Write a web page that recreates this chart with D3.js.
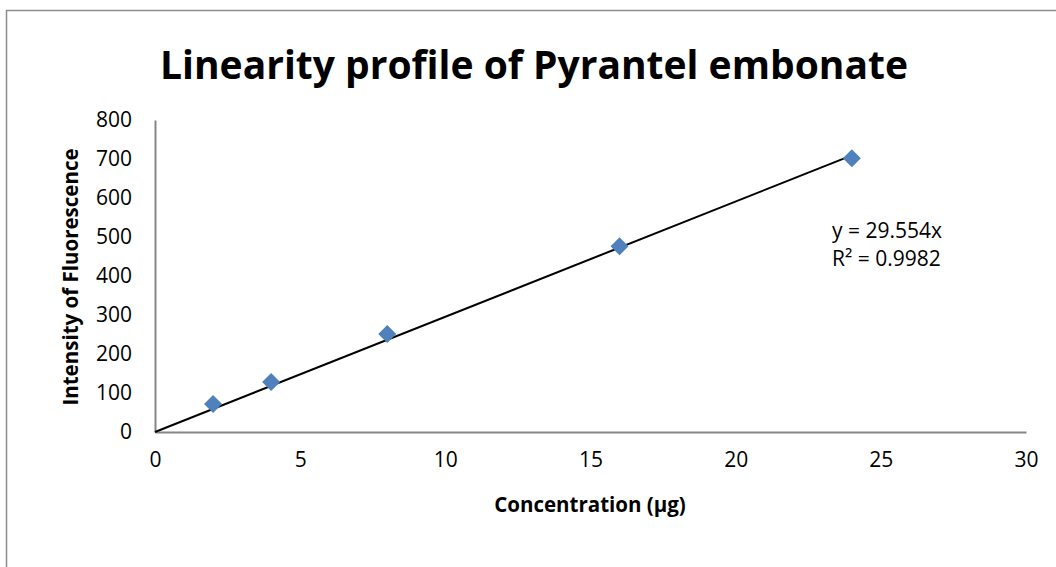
<!DOCTYPE html>
<html>
<head>
<meta charset="utf-8">
<script src="https://cdn.jsdelivr.net/npm/d3@7"></script>
<style>
  body { margin: 0; background: #fff; }
  svg { display: block; font-family: "Open Sans", Lato, sans-serif; }
</style>
</head>
<body>
<div id="chart"></div>
<script>
// data
const concentration = [2, 4, 8, 16, 24];
const intensity = [72, 128, 251, 476, 702];
const slope = 29.554;
const xTicks = [0, 5, 10, 15, 20, 25, 30];
const yTicks = [0, 100, 200, 300, 400, 500, 600, 700, 800];

const W = 1056, H = 567;
const margin = {top: 120, right: 30, bottom: 135, left: 155};
const width = 1026 - margin.left, height = 432 - margin.top;

const svg = d3.select("#chart").append("svg")
  .attr("width", W).attr("height", H);

// outer chart frame (cropped at right/bottom)
svg.append("rect")
  .attr("x", 6.5).attr("y", 10.5)
  .attr("width", W + 10).attr("height", H + 10)
  .attr("fill", "none").attr("stroke", "#8c8c8c").attr("stroke-width", 1.5);

svg.append("text")
  .attr("x", 534).attr("y", 79)
  .attr("text-anchor", "middle")
  .style("font-size", "39px").style("font-weight", "bold")
  .text("Linearity profile of Pyrantel embonate");

const g = svg.append("g").attr("transform", `translate(${margin.left},${margin.top})`);

const x = d3.scaleLinear().domain([0, 30]).range([0, width]);
const y = d3.scaleLinear().domain([0, 800]).range([height, 0]);

const xAxis = g.append("g").attr("transform", `translate(0,${height})`)
  .call(d3.axisBottom(x).tickValues(xTicks).tickSize(0).tickPadding(16));
const yAxis = g.append("g")
  .call(d3.axisLeft(y).tickValues(yTicks).tickSize(0).tickPadding(23));

[xAxis, yAxis].forEach(a => {
  a.select(".domain").attr("stroke", "#868686").attr("stroke-width", 2);
  a.selectAll("text").attr("fill", "#000")
    .style("font-family", "'Open Sans', Lato, sans-serif").style("font-size", "21px");
});
xAxis.selectAll("text").attr("dy", "0.9em");

// trendline through origin
g.append("line")
  .attr("x1", x(0)).attr("y1", y(0))
  .attr("x2", x(24)).attr("y2", y(slope * 24))
  .attr("stroke", "#000").attr("stroke-width", 2);

const pts = concentration.map((c, i) => ({c, v: intensity[i]}));
g.selectAll(".pt").data(pts).join("path")
  .attr("class", "pt")
  .attr("transform", d => `translate(${x(d.c)},${y(d.v)})`)
  .attr("d", "M0,-9L9,0L0,9L-9,0Z")
  .attr("fill", "#4f81bd");

svg.append("text").attr("x", 832).attr("y", 238)
  .style("font-size", "21px").text("y = 29.554x");
svg.append("text").attr("x", 832).attr("y", 266)
  .style("font-size", "21px").text("R² = 0.9982");

svg.append("text")
  .attr("x", 590).attr("y", 512).attr("text-anchor", "middle")
  .style("font-size", "20.5px").style("font-weight", "bold")
  .text("Concentration (μg)");

svg.append("text")
  .attr("transform", "translate(78,277) rotate(-90)")
  .attr("text-anchor", "middle")
  .style("font-size", "20.5px").style("font-weight", "bold")
  .text("Intensity of Fluorescence");
</script>
</body>
</html>
